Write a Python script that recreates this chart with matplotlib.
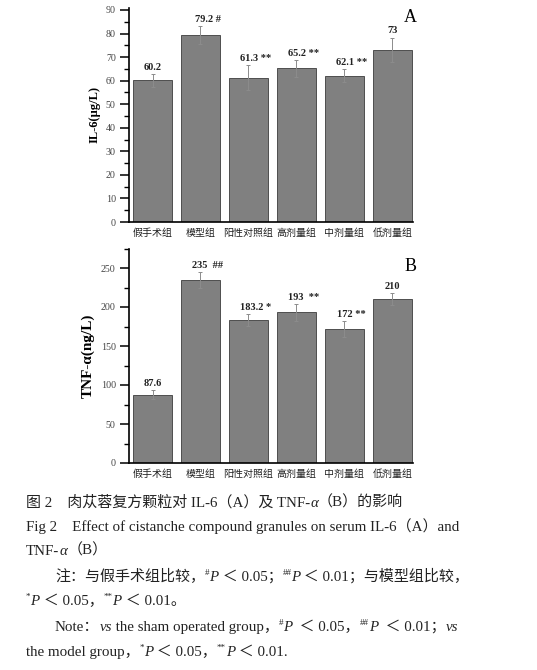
import matplotlib
matplotlib.use('Agg')
import matplotlib.pyplot as plt
from matplotlib.ticker import MultipleLocator

# 数据
groups = ['假手术组', '模型组', '阳性对照组', '高剂量组', '中剂量组', '低剂量组']
il6 = [60.2, 79.2, 61.3, 65.2, 62.1, 73]
il6_err = [2.7, 3.8, 5.3, 3.5, 2.8, 5.3]
il6_labels = ['60.2', '79.2 #', '61.3 **', '65.2 **', '62.1 **', '73']
tnf = [87.6, 235, 183.2, 193, 172, 210]
tnf_err = [5.5, 10, 8, 11, 10, 8]
tnf_labels = ['87.6', '235  ##', '183.2 *', '193  **', '172 **', '210']

SERIF = ['Liberation Serif', 'Noto Sans CJK SC']
CJK = ['Noto Sans CJK SC', 'DejaVu Sans']

W, H = 537, 670
fig = plt.figure(figsize=(W / 100, H / 100), dpi=100)


def panel(rect, vals, errs, labels, ylim, major, minor, ylabel, ylsize, letter, lety):
    ax = fig.add_axes(rect)
    x = range(len(vals))
    ax.bar(x, vals, width=0.81, color='#808080', edgecolor='#3c3c3c', linewidth=0.6, zorder=2)
    ax.errorbar(x, vals, yerr=errs, fmt='none', ecolor='#8c8c8c', elinewidth=0.7,
                capsize=1.5, capthick=0.7, zorder=3)
    for i, (v, e, lab) in enumerate(zip(vals, errs, labels)):
        dx = 0.15 if ' ' in lab else 0
        ax.annotate(lab, (i + dx, v + e), xytext=(0, 1.5), textcoords='offset points',
                    ha='center', va='bottom', fontsize=7.5, fontweight='bold',
                    family=SERIF, color='#222222')
    ax.set_xlim(-0.49, 5.43)
    ax.set_ylim(*ylim)
    ax.yaxis.set_major_locator(MultipleLocator(major))
    ax.yaxis.set_minor_locator(MultipleLocator(minor))
    ax.set_xticks(list(x))
    ax.set_xticklabels(groups, family=CJK, fontsize=7.2, color='#222222')
    ax.tick_params(axis='x', length=0, pad=4)
    ax.tick_params(axis='y', which='major', length=6.5, width=1.1, labelsize=7.2,
                   labelcolor='#444444', pad=3)
    ax.tick_params(axis='y', which='minor', length=3.5, width=1.0)
    for lab in ax.get_yticklabels():
        lab.set_family(SERIF)
    for s in ['top', 'right']:
        ax.spines[s].set_visible(False)
    for s in ['left', 'bottom']:
        ax.spines[s].set_linewidth(1.2)
    ax.set_ylabel(ylabel, family=SERIF, fontweight='bold', fontsize=ylsize, labelpad=4)
    ax.text(0.99, lety, letter, transform=ax.transAxes, ha='center', va='center',
            fontsize=13, family=SERIF)
    return ax


ax1 = panel([129 / W, 1 - 222 / H, 284 / W, 214.4 / H], il6, il6_err, il6_labels,
            (0, 91), 10, 5, 'IL-6(μg/L)', 9, 'A', 0.953)
ax2 = panel([129 / W, 1 - 463 / H, 284 / W, 214.5 / H], tnf, tnf_err, tnf_labels,
            (0, 275), 50, 25, 'TNF-α(ng/L)', 11, 'B', 0.916)

# 图注，逐段绘制（上标、斜体）
renderer = fig.canvas.get_renderer()
SIZE = 10.8


def draw_runs(x, y, runs):
    for txt, kind in runs:
        size = SIZE
        style = 'normal'
        yy = y
        if kind == 'i':
            style = 'italic'
        elif kind == 's':
            size = SIZE * 0.6
            yy = y - SIZE * 0.55
        t = fig.text(x / W, 1 - yy / H, txt, fontsize=size, fontstyle=style, family=SERIF,
                     va='baseline', ha='left', color='#222222')
        x += t.get_window_extent(renderer).width


draw_runs(26, 507, [('图 2　肉苁蓉复方颗粒对 IL-6（A）及 TNF-', 'n'), ('α', 'i'), ('（B）的影响', 'n')])
draw_runs(26, 531, [('Fig 2　Effect of cistanche compound granules on serum IL-6（A）and', 'n')])
draw_runs(26, 555, [('TNF-', 'n'), ('α', 'i'), ('（B）', 'n')])
draw_runs(55, 581, [('注：与假手术组比较，', 'n'), ('#', 's'), ('P', 'i'), (' ＜ 0.05；', 'n'),
                    ('##', 's'), ('P', 'i'), (' ＜ 0.01；与模型组比较，', 'n')])
draw_runs(26, 605, [('*', 's'), ('P', 'i'), (' ＜ 0.05，', 'n'), ('**', 's'), ('P', 'i'), (' ＜ 0.01。', 'n')])
draw_runs(55, 631, [('Note：', 'n'), ('vs', 'i'), (' the sham operated group，', 'n'), ('#', 's'),
                    ('P', 'i'), ('  ＜ 0.05，', 'n'), ('##', 's'), ('P', 'i'), ('  ＜ 0.01；', 'n'), ('vs', 'i')])
draw_runs(26, 656, [('the model group，', 'n'), ('*', 's'), ('P', 'i'), (' ＜ 0.05，', 'n'),
                    ('**', 's'), ('P', 'i'), (' ＜ 0.01.', 'n')])

fig.savefig('out.png', dpi=100)
